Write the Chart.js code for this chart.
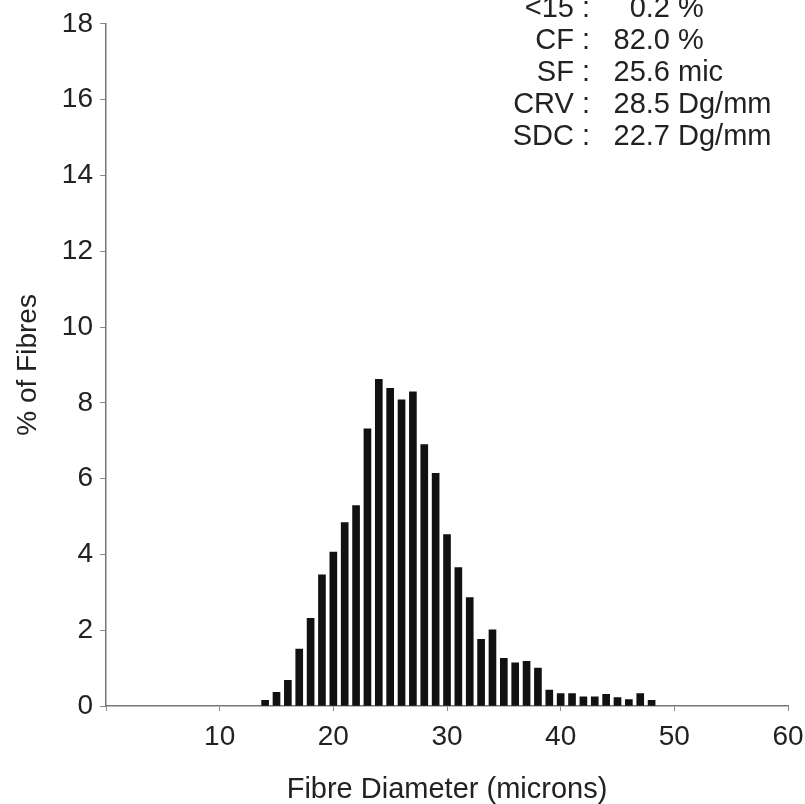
<!DOCTYPE html>
<html>
<head>
<meta charset="utf-8">
<script src="https://cdn.jsdelivr.net/npm/chart.js@4"></script>
<style>
  html, body { margin: 0; padding: 0; background: #fff; }
  #wrap { width: 805px; height: 804px; }
</style>
</head>
<body>
<div id="wrap"><canvas id="myChart" width="805" height="804"></canvas></div>
<script>
const diameters = [14, 15, 16, 17, 18, 19, 20, 21, 22, 23, 24, 25, 26, 27, 28, 29, 30, 31,
    32, 33, 34, 35, 36, 37, 38, 39, 40, 41, 42, 43, 44, 45, 46, 47, 48];
const percents = [0.15, 0.36, 0.68, 1.5, 2.31, 3.46, 4.06, 4.84, 5.29, 7.31, 8.62, 8.38, 8.08, 8.29, 6.90, 6.14, 4.52, 3.65,
    2.86, 1.76, 2.01, 1.26, 1.14, 1.18, 1.0, 0.42, 0.33, 0.33, 0.24, 0.24, 0.31, 0.22, 0.17, 0.33, 0.15];
const xTicks = [10, 20, 30, 40, 50, 60];
const yTicks = [0, 2, 4, 6, 8, 10, 12, 14, 16, 18];

// resumen de arriba a la derecha
const statLabels = ['<15 :', 'CF :', 'SF :', 'CRV :', 'SDC :'];
const statNumbers = ['0.2', '82.0', '25.6', '28.5', '22.7'];
const statUnits = ['%', '%', 'mic', 'Dg/mm', 'Dg/mm'];

const FONT = '"Liberation Sans", Arial, sans-serif';

// plugin para pintar el cuadro de estadisticas
const statsBox = {
    id: 'statsBox',
    afterDraw(chart) {
        const ctx = chart.ctx;
        ctx.save();
        ctx.font = '29px ' + FONT;
        ctx.fillStyle = '#222';
        ctx.textBaseline = 'alphabetic';
        for (let i = 0; i < statLabels.length; i++) {
            let y = 17 + i * 32;
            ctx.textAlign = 'right';
            ctx.fillText(statLabels[i], 590, y);
            ctx.fillText(statNumbers[i], 670, y);
            ctx.textAlign = 'left';
            ctx.fillText(statUnits[i], 678, y);
        }
        ctx.restore();
    }
};

window.onload = () => {
    const points = diameters.map((d, i) => ({ x: d, y: percents[i] }));

    var ctx = document.getElementById('myChart').getContext('2d');
    var chart = new Chart(ctx, {
        type: 'bar',
        data: {
            datasets: [{
                data: points,
                backgroundColor: '#111',
                borderWidth: 0,
                barThickness: 7
            }]
        },
        plugins: [statsBox],
        options: {
            responsive: false,
            animation: false,
            layout: { padding: { top: 18, right: 17, bottom: 0, left: 0 } },
            plugins: {
                legend: { display: false },
                tooltip: { enabled: false }
            },
            scales: {
                x: {
                    type: 'linear',
                    offset: false,
                    min: 0,
                    max: 60,
                    afterBuildTicks: (scale) => {
                        scale.ticks = [0].concat(xTicks).map(v => ({ value: v }));
                    },
                    afterFit: (scale) => {
                        scale.height = 98;
                        scale.paddingRight = 0;
                        scale.paddingLeft = 0;
                    },
                    grid: { display: true, offset: false, drawOnChartArea: false, drawTicks: true, tickLength: 5, color: '#888' },
                    border: { display: true, color: '#777', width: 1.5 },
                    ticks: {
                        padding: 9,
                        color: '#222',
                        font: { family: FONT, size: 28 },
                        maxRotation: 0,
                        callback: (v) => v === 0 ? '' : v
                    },
                    title: {
                        display: true,
                        text: 'Fibre Diameter (microns)',
                        color: '#222',
                        font: { family: FONT, size: 29, lineHeight: 1 },
                        padding: 0
                    }
                },
                y: {
                    min: 0,
                    max: 18,
                    afterBuildTicks: (scale) => {
                        scale.ticks = yTicks.map(v => ({ value: v }));
                    },
                    afterFit: (scale) => { scale.width = 106; },
                    grid: { display: true, drawOnChartArea: false, drawTicks: true, tickLength: 6, color: '#888' },
                    border: { display: true, color: '#777', width: 1.5 },
                    ticks: {
                        padding: 7,
                        color: '#222',
                        font: { family: FONT, size: 28 }
                    },
                    title: {
                        display: true,
                        text: '% of Fibres',
                        color: '#222',
                        font: { family: FONT, size: 28, lineHeight: 1 },
                        padding: { top: 14, bottom: 0 }
                    }
                }
            }
        }
    });
};
</script>
</body>
</html>
